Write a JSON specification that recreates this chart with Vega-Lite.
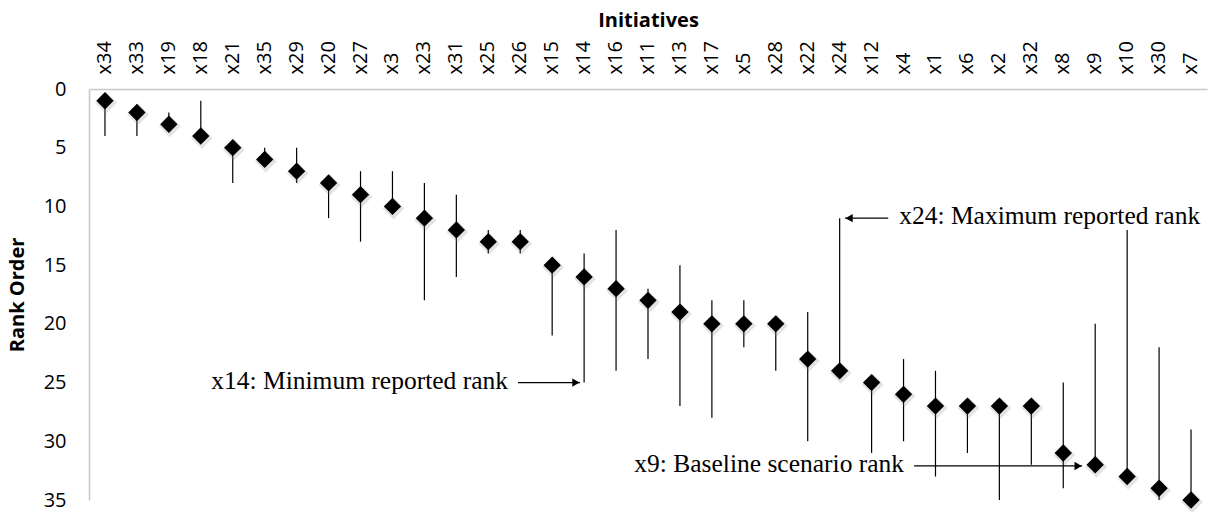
{
  "$schema": "https://vega.github.io/schema/vega-lite/v6.json",
  "width": 1118,
  "height": 411,
  "autosize": "none",
  "padding": {"left": 89, "top": 89, "right": 10, "bottom": 14},
  "background": "white",
  "config": {
    "view": {"stroke": null},
    "font": "Open Sans"
  },
  "datasets": {
    "ranks": [
      {"initiative": "x34", "rank": 1, "lo": 1, "hi": 4},
      {"initiative": "x33", "rank": 2, "lo": 2, "hi": 4},
      {"initiative": "x19", "rank": 3, "lo": 2, "hi": 3},
      {"initiative": "x18", "rank": 4, "lo": 1, "hi": 4},
      {"initiative": "x21", "rank": 5, "lo": 5, "hi": 8},
      {"initiative": "x35", "rank": 6, "lo": 5, "hi": 6},
      {"initiative": "x29", "rank": 7, "lo": 5, "hi": 8},
      {"initiative": "x20", "rank": 8, "lo": 8, "hi": 11},
      {"initiative": "x27", "rank": 9, "lo": 7, "hi": 13},
      {"initiative": "x3", "rank": 10, "lo": 7, "hi": 10},
      {"initiative": "x23", "rank": 11, "lo": 8, "hi": 18},
      {"initiative": "x31", "rank": 12, "lo": 9, "hi": 16},
      {"initiative": "x25", "rank": 13, "lo": 12, "hi": 14},
      {"initiative": "x26", "rank": 13, "lo": 12, "hi": 14},
      {"initiative": "x15", "rank": 15, "lo": 15, "hi": 21},
      {"initiative": "x14", "rank": 16, "lo": 14, "hi": 25},
      {"initiative": "x16", "rank": 17, "lo": 12, "hi": 24},
      {"initiative": "x11", "rank": 18, "lo": 17, "hi": 23},
      {"initiative": "x13", "rank": 19, "lo": 15, "hi": 27},
      {"initiative": "x17", "rank": 20, "lo": 18, "hi": 28},
      {"initiative": "x5", "rank": 20, "lo": 18, "hi": 22},
      {"initiative": "x28", "rank": 20, "lo": 20, "hi": 24},
      {"initiative": "x22", "rank": 23, "lo": 19, "hi": 30},
      {"initiative": "x24", "rank": 24, "lo": 11, "hi": 24},
      {"initiative": "x12", "rank": 25, "lo": 25, "hi": 31},
      {"initiative": "x4", "rank": 26, "lo": 23, "hi": 30},
      {"initiative": "x1", "rank": 27, "lo": 24, "hi": 33},
      {"initiative": "x6", "rank": 27, "lo": 27, "hi": 31},
      {"initiative": "x2", "rank": 27, "lo": 27, "hi": 35},
      {"initiative": "x32", "rank": 27, "lo": 27, "hi": 32},
      {"initiative": "x8", "rank": 31, "lo": 25, "hi": 34},
      {"initiative": "x9", "rank": 32, "lo": 20, "hi": 32},
      {"initiative": "x10", "rank": 33, "lo": 12, "hi": 33},
      {"initiative": "x30", "rank": 34, "lo": 22, "hi": 35},
      {"initiative": "x7", "rank": 35, "lo": 29, "hi": 35}
    ],
    "notes": [
      {"label": "x24: Maximum reported rank", "tail": 24.52, "tip": 23.17, "y": 11},
      {"label": "x14: Minimum reported rank", "tail": 12.93, "tip": 14.87, "y": 25},
      {"label": "x9: Baseline scenario rank", "tail": 25.33, "tip": 30.59, "y": 32.1}
    ]
  },
  "layer": [
    {
      "data": {"name": "ranks"},
      "encoding": {
        "x": {
          "field": "initiative",
          "type": "nominal",
          "sort": null,
          "scale": {"paddingInner": 0, "paddingOuter": 0},
          "axis": {
            "orient": "top",
            "title": "Initiatives",
            "titleFont": "Open Sans",
            "titleFontSize": 20,
            "titleFontWeight": "bold",
            "titleColor": "#000000",
            "titleY": -63,
            "titleBaseline": "alphabetic",
            "labelAngle": -90,
            "labelFont": "Open Sans",
            "labelFontSize": 20,
            "labelColor": "#000000",
            "labelPadding": 15,
            "ticks": false,
            "domainColor": "#c8c8c8",
            "domainWidth": 1.5,
            "grid": false
          }
        },
        "y": {
          "type": "quantitative",
          "scale": {"domain": [0, 35], "reverse": true, "nice": false, "zero": false},
          "axis": {
            "title": "Rank  Order",
            "titleFont": "Open Sans",
            "titleFontSize": 20,
            "titleFontWeight": "bold",
            "titleColor": "#000000",
            "titleX": -72,
            "titleBaseline": "middle",
            "values": [0, 5, 10, 15, 20, 25, 30, 35],
            "labelFont": "Open Sans",
            "labelFontSize": 20,
            "labelColor": "#000000",
            "labelPadding": 23,
            "ticks": false,
            "domainColor": "#c8c8c8",
            "domainWidth": 1.5,
            "grid": false
          }
        }
      },
      "layer": [
        {
          "mark": {"type": "rule", "color": "#000000", "strokeWidth": 1.2},
          "encoding": {
            "y": {"field": "lo"},
            "y2": {"field": "hi"}
          }
        },
        {
          "mark": {"type": "point", "shape": "diamond", "filled": true, "size": 480, "color": "#808080", "opacity": 0.22, "xOffset": 1, "yOffset": 2},
          "encoding": {"y": {"field": "rank"}}
        },
        {
          "mark": {"type": "point", "shape": "diamond", "filled": true, "size": 300, "color": "#000000", "opacity": 1},
          "encoding": {"y": {"field": "rank"}}
        }
      ]
    },
    {
      "data": {"name": "notes"},
      "encoding": {
        "y": {
          "field": "y",
          "type": "quantitative",
          "scale": {"domain": [0, 35], "reverse": true, "nice": false, "zero": false},
          "axis": null
        }
      },
      "layer": [
        {
          "mark": {"type": "rule", "color": "#000000", "strokeWidth": 1.2},
          "encoding": {
            "x": {"field": "tail", "type": "quantitative", "scale": {"domain": [-0.5, 34.5], "nice": false, "zero": false}, "axis": null},
            "x2": {"field": "tip"}
          }
        },
        {
          "transform": [{"filter": "datum.tip > datum.tail"}],
          "mark": {"type": "point", "shape": "triangle-right", "filled": true, "size": 70, "color": "#000000", "opacity": 1, "xOffset": -4},
          "encoding": {
            "x": {"field": "tip", "type": "quantitative", "scale": {"domain": [-0.5, 34.5], "nice": false, "zero": false}, "axis": null}
          }
        },
        {
          "transform": [{"filter": "datum.tip < datum.tail"}],
          "mark": {"type": "point", "shape": "triangle-left", "filled": true, "size": 70, "color": "#000000", "opacity": 1, "xOffset": 4},
          "encoding": {
            "x": {"field": "tip", "type": "quantitative", "scale": {"domain": [-0.5, 34.5], "nice": false, "zero": false}, "axis": null}
          }
        },
        {
          "transform": [{"filter": "datum.tip > datum.tail"}],
          "mark": {"type": "text", "font": "Liberation Serif", "fontSize": 25.5, "color": "#000000", "align": "right", "baseline": "alphabetic", "dx": -10, "dy": 6},
          "encoding": {
            "x": {"field": "tail", "type": "quantitative", "scale": {"domain": [-0.5, 34.5], "nice": false, "zero": false}, "axis": null},
            "text": {"field": "label"}
          }
        },
        {
          "transform": [{"filter": "datum.tip < datum.tail"}],
          "mark": {"type": "text", "font": "Liberation Serif", "fontSize": 25.5, "color": "#000000", "align": "left", "baseline": "alphabetic", "dx": 11, "dy": 6},
          "encoding": {
            "x": {"field": "tail", "type": "quantitative", "scale": {"domain": [-0.5, 34.5], "nice": false, "zero": false}, "axis": null},
            "text": {"field": "label"}
          }
        }
      ]
    }
  ],
  "resolve": {"scale": {"x": "independent", "y": "independent"}, "axis": {"x": "independent", "y": "independent"}}
}
